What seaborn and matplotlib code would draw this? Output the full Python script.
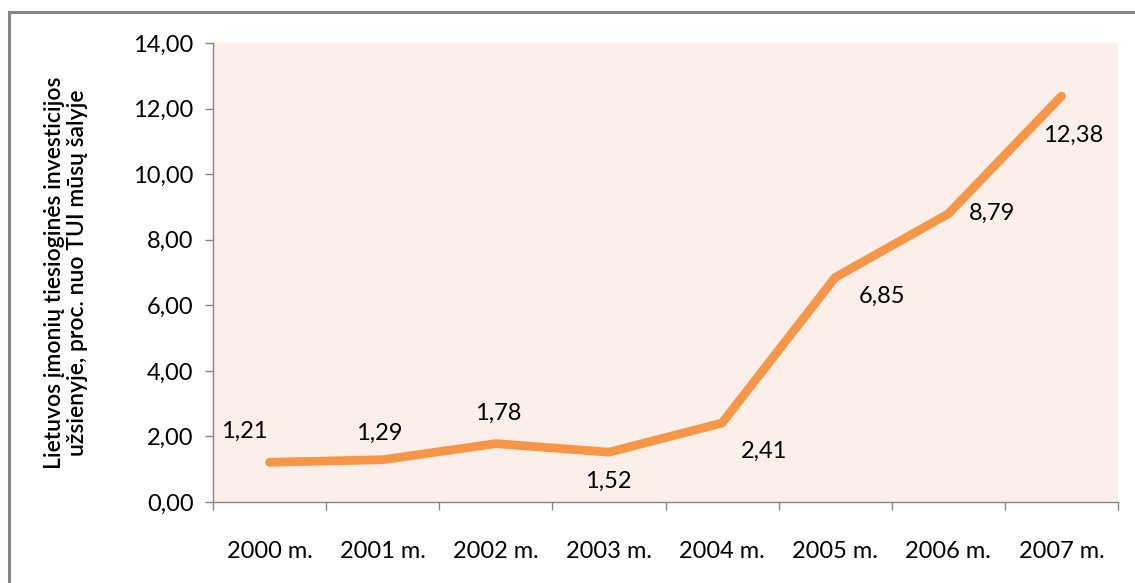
import matplotlib
matplotlib.use("Agg")
import matplotlib.pyplot as plt
import matplotlib.patches as mpatches
from matplotlib.ticker import FuncFormatter, FixedLocator, NullFormatter
import seaborn as sns
import pandas as pd

years = ["2000 m.", "2001 m.", "2002 m.", "2003 m.", "2004 m.", "2005 m.", "2006 m.", "2007 m."]
values = [1.21, 1.29, 1.78, 1.52, 2.41, 6.85, 8.79, 12.38]
label_texts = ["1,21", "1,29", "1,78", "1,52", "2,41", "6,85", "8,79", "12,38"]
# label offsets in pixels (dx, dy)
label_offsets_px = [(-25, 31), (-3, 26), (2, 30), (-1, -29), (42, -28), (47, -19), (44, 0), (12, -39)]
y_ticks = [0, 2, 4, 6, 8, 10, 12, 14]
y_label = "Lietuvos įmonių tiesioginės investicijos\nužsienyje, proc. nuo TUI mūsų šalyje"

sns.set_theme(style="white")
plt.rcParams['font.family'] = ['Lato', 'DejaVu Sans']

DPI = 100
FS = 17
fig = plt.figure(figsize=(11.35, 5.83), dpi=DPI)
fig.patch.set_facecolor("white")
ax = fig.add_axes([213/1135, 1-502/583, (1118-213)/1135, (502-43)/583])
ax.set_facecolor("#FCEEE8")

df = pd.DataFrame({"year": years, "value": values})
sns.lineplot(data=df, x="year", y="value", ax=ax, color="#F79646", linewidth=6.3,
             solid_capstyle="round", solid_joinstyle="round", sort=False)

ax.set_xlim(-0.5, len(years) - 0.5)
ax.set_ylim(0, 14)
ax.set_yticks(y_ticks)
ax.yaxis.set_major_formatter(FuncFormatter(lambda v, p: f"{v:.2f}".replace(".", ",")))

ax.set_xticks(range(len(years)))
ax.set_xticklabels(years)
ax.xaxis.set_minor_locator(FixedLocator([i - 0.5 for i in range(len(years) + 1)]))
ax.xaxis.set_minor_formatter(NullFormatter())
ax.tick_params(axis="x", which="major", length=0, pad=28, labelsize=FS, colors="black")
ax.tick_params(axis="x", which="minor", length=6, width=1, color="#868686", direction="out", bottom=True)
ax.tick_params(axis="y", which="major", length=6, width=1, color="#868686", direction="out", left=True,
               pad=8, labelsize=FS, labelcolor="black")

for s in ["top", "right"]:
    ax.spines[s].set_visible(False)
for s in ["left", "bottom"]:
    ax.spines[s].set_color("#868686")
    ax.spines[s].set_linewidth(1)

ax.set_xlabel("")
ax.set_ylabel(y_label, fontsize=16.5, fontweight="semibold", color="black", linespacing=1.15)
ax.yaxis.set_label_coords(-0.138, 0.5)
ax.grid(False)

for i, (t, (dx, dy)) in enumerate(zip(label_texts, label_offsets_px)):
    ax.annotate(t, (i, values[i]), xytext=(dx * 72 / DPI, dy * 72 / DPI), textcoords="offset points",
                ha="center", va="center", fontsize=FS, color="black")

border = mpatches.Rectangle((9/1135, -0.1), 1.2, 1.1 - 12/583, transform=fig.transFigure,
                            fill=False, edgecolor="#868686", linewidth=2.2, clip_on=False)
fig.patches.append(border)

fig.savefig("out.png", dpi=DPI)
